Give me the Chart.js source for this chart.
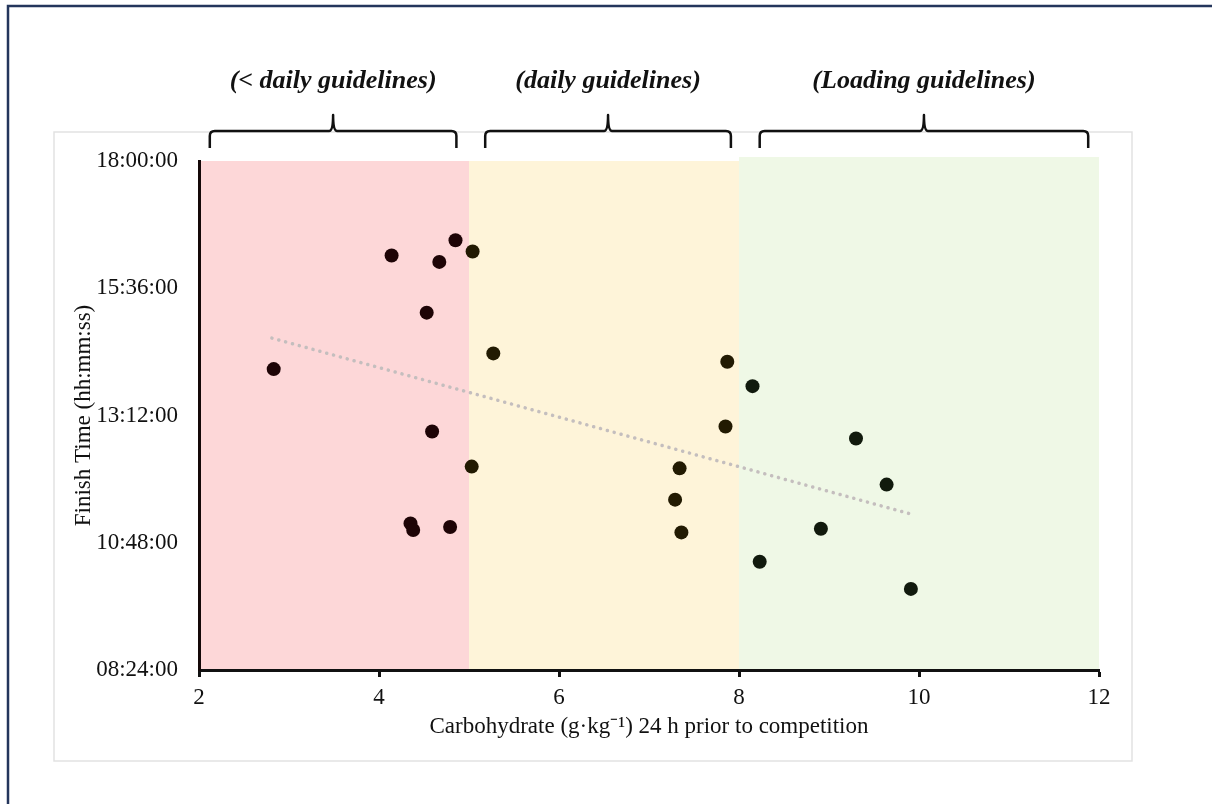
<!DOCTYPE html>
<html>
<head>
<meta charset="utf-8">
<script src="https://cdn.jsdelivr.net/npm/chart.js@4.4.1/dist/chart.umd.min.js"></script>
<style>
  body { margin: 0; background: #fff; }
  #wrap { width: 1212px; height: 804px; }
</style>
</head>
<body>
<div id="wrap"><canvas id="chart" width="1212" height="804"></canvas></div>
<script>
// carbohydrate intake (g/kg) and finish time for each athlete
const carbIntake = [2.83, 4.14, 4.85, 4.67, 5.04, 4.53, 5.27, 4.59, 5.03, 4.35, 4.38, 4.79,
  7.87, 8.15, 7.85, 7.34, 7.29, 7.36, 8.23, 9.30, 9.64, 8.91, 9.91];
const finishTime = ["14:04:30", "16:13:06", "16:30:24", "16:05:48", "16:17:36", "15:08:24", "14:22:18", "12:53:54", "12:14:12", "11:09:54", "11:02:24", "11:05:48",
  "14:12:54", "13:45:12", "12:59:30", "12:12:12", "11:36:48", "10:59:42", "10:26:30", "12:45:54", "11:53:48", "11:03:54", "09:55:48"];

// dotted trend line, ends
const trendCarb = [2.81, 9.91];
const trendTime = ["14:39:36", "11:20:30"];

// guideline bands
const bandLabels = ["(< daily guidelines)", "(daily guidelines)", "(Loading guidelines)"];
const bandFrom = [2, 5, 8];
const bandTo = [5, 8, 12];
const bandTop = ["18:00:00", "18:00:00", "18:04:30"];
const braceFrom = [2.12, 5.18, 8.23];
const braceTo = [4.86, 7.91, 11.88];
const bandFill = ["#fdd7d8", "#fef4d9", "#eff8e6"];
const dotColor = ["#1e0406", "#221a02", "#111a0d"];

const xTicks = [2, 4, 6, 8, 10, 12];
const yTicks = ["08:24:00", "10:48:00", "13:12:00", "15:36:00", "18:00:00"];

const toMin = (s) => { const p = s.split(":").map(Number); return p[0] * 60 + p[1] + p[2] / 60; };
const toHms = (m) => {
  const h = Math.floor(m / 60), mm = Math.round(m - h * 60);
  return String(h).padStart(2, "0") + ":" + String(mm).padStart(2, "0") + ":00";
};
const bandOf = (x) => bandTo.findIndex((t, i) => x >= bandFrom[i] && x < t);

const serif = "'Liberation Serif', 'Times New Roman', serif";

const decorations = {
  id: "decorations",
  beforeDraw(chart) {
    const { ctx, chartArea, scales: { x, y } } = chart;
    ctx.save();
    // outer navy frame
    ctx.strokeStyle = "#24365c";
    ctx.lineWidth = 2.5;
    ctx.strokeRect(8, 6, 1230, 830);
    // light grey chart frame
    ctx.strokeStyle = "#e2e2e2";
    ctx.lineWidth = 1.5;
    ctx.strokeRect(54, 132, 1078, 629);
    // bands
    bandFrom.forEach((from, i) => {
      const left = x.getPixelForValue(from), right = x.getPixelForValue(bandTo[i]);
      const top = y.getPixelForValue(toMin(bandTop[i]));
      ctx.fillStyle = bandFill[i];
      ctx.fillRect(left, top, right - left, chartArea.bottom - top);
    });
    ctx.restore();
  },
  afterDraw(chart) {
    const { ctx, scales: { x } } = chart;
    ctx.save();
    ctx.strokeStyle = "#111";
    ctx.lineWidth = 2.5;
    ctx.lineJoin = "round";
    braceFrom.forEach((from, i) => {
      const x0 = x.getPixelForValue(from), x1 = x.getPixelForValue(braceTo[i]);
      const xc = (x0 + x1) / 2, yb = 131, r = 5;
      ctx.beginPath();
      ctx.moveTo(x0, 148);
      ctx.lineTo(x0, yb + r);
      ctx.quadraticCurveTo(x0, yb, x0 + r, yb);
      ctx.lineTo(xc - 4, yb);
      ctx.quadraticCurveTo(xc, yb, xc, 115);
      ctx.quadraticCurveTo(xc, yb, xc + 4, yb);
      ctx.lineTo(x1 - r, yb);
      ctx.quadraticCurveTo(x1, yb, x1, yb + r);
      ctx.lineTo(x1, 148);
      ctx.stroke();
      ctx.fillStyle = "#111";
      ctx.font = "italic bold 26px " + serif;
      ctx.textAlign = "center";
      ctx.textBaseline = "middle";
      ctx.fillText(bandLabels[i], xc, 81);
    });
    ctx.restore();
  }
};

new Chart(document.getElementById("chart"), {
  data: {
    datasets: [{
      type: "scatter",
      data: carbIntake.map((c, i) => ({ x: c, y: toMin(finishTime[i]) })),
      pointRadius: 7,
      pointHoverRadius: 7,
      pointBorderWidth: 0,
      pointBackgroundColor: carbIntake.map((c) => dotColor[bandOf(c)]),
      order: 1
    }, {
      type: "line",
      data: trendCarb.map((c, i) => ({ x: c, y: toMin(trendTime[i]) })),
      borderColor: "#c4bebe",
      borderWidth: 3.5,
      borderDash: [0.1, 7],
      borderCapStyle: "round",
      pointRadius: 0,
      order: 2
    }]
  },
  options: {
    responsive: false,
    devicePixelRatio: 1,
    animation: false,
    layout: { padding: { left: 70, top: 161, right: 113, bottom: 63 } },
    plugins: { legend: { display: false }, tooltip: { enabled: false } },
    scales: {
      x: {
        type: "linear",
        min: xTicks[0],
        max: xTicks[xTicks.length - 1],
        afterBuildTicks: (s) => { s.ticks = xTicks.map((v) => ({ value: v })); },
        afterFit: (s) => { s.height = 71; },
        grid: { drawOnChartArea: false, drawTicks: true, tickLength: 7, tickWidth: 3, tickColor: "#111" },
        border: { color: "#111", width: 3 },
        ticks: { color: "#111", padding: 7, font: { family: serif, size: 23 } },
        title: {
          display: true,
          text: "Carbohydrate (g·kg⁻¹) 24 h prior to competition",
          color: "#111",
          padding: 0,
          font: { family: serif, size: 23 }
        }
      },
      y: {
        type: "linear",
        min: toMin(yTicks[0]),
        max: toMin(yTicks[yTicks.length - 1]),
        afterBuildTicks: (s) => { s.ticks = yTicks.map((t) => ({ value: toMin(t) })); },
        afterFit: (s) => { s.width = 129; },
        grid: { drawOnChartArea: false, drawTicks: false },
        border: { color: "#140808", width: 3 },
        ticks: { color: "#111", padding: 21, callback: (v) => toHms(v), font: { family: serif, size: 23 } },
        title: {
          display: true,
          text: "Finish Time (hh:mm:ss)",
          color: "#111",
          padding: 0,
          font: { family: serif, size: 23 }
        }
      }
    }
  },
  plugins: [decorations]
});
</script>
</body>
</html>
